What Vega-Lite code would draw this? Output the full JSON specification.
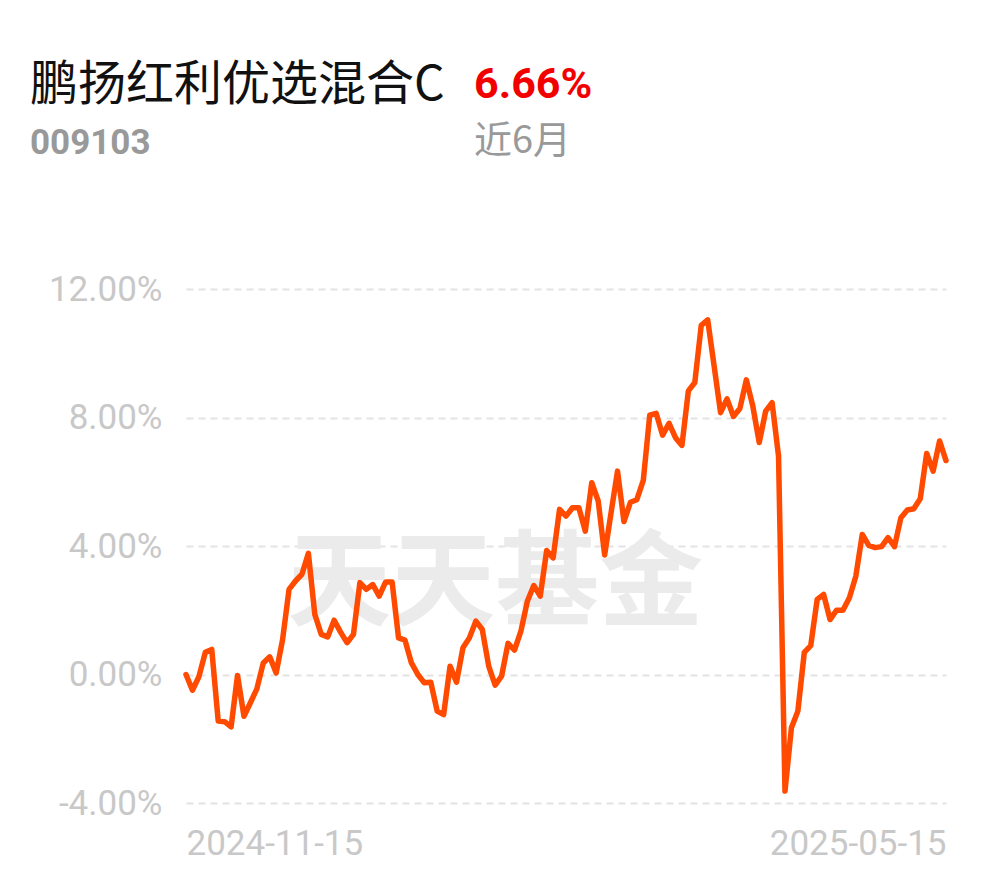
{
  "$schema": "https://vega.github.io/schema/vega-lite/v6.json",
  "autosize": {"type": "none"},
  "padding": {"left": 186, "top": 166, "right": 804, "bottom": 712},
  "background": "white",
  "bounds": "flush",
  "spacing": 123,
  "config": {"view": {"stroke": null}, "font": "Roboto"},
  "vconcat": [
    {
      "bounds": "flush",
      "spacing": 0,
      "hconcat": [
        {
          "width": 288, "height": 1,
          "data": {"values": [{"k": ""}]},
          "mark": {"type": "text", "opacity": 0},
          "encoding": {"text": {"field": "k"}},
          "title": {"text": "鹏扬红利优选混合C", "subtitle": "009103", "anchor": "start", "dx": -156, "offset": 0,
            "font": "Noto Sans CJK SC", "fontSize": 48, "fontWeight": "normal", "color": "#111111",
            "subtitleFont": "Roboto", "subtitleFontSize": 35, "subtitleFontWeight": "bold", "subtitleColor": "#999999", "subtitlePadding": 16}
        },
        {
          "width": 100, "height": 1,
          "data": {"values": [{"k": ""}]},
          "mark": {"type": "text", "opacity": 0},
          "encoding": {"text": {"field": "k"}},
          "title": {"text": "6.66%", "subtitle": "近6月", "anchor": "start", "offset": 0,
            "font": "Roboto", "fontSize": 43, "fontWeight": "bold", "color": "#f20000",
            "subtitleFont": "Noto Sans CJK SC", "subtitleFontSize": 38, "subtitleFontWeight": "normal", "subtitleColor": "#999999", "subtitlePadding": 16}
        }
      ]
    },
    {
      "width": 760,
      "height": 514,
      "data": {"values": [
        {"date": "2024-11-15", "r": 0.00}, {"date": "2024-11-18", "r": -0.49}, {"date": "2024-11-19", "r": -0.07}, {"date": "2024-11-20", "r": 0.69}, {"date": "2024-11-21", "r": 0.78}, {"date": "2024-11-22", "r": -1.45}, {"date": "2024-11-25", "r": -1.47}, {"date": "2024-11-26", "r": -1.63}, {"date": "2024-11-27", "r": -0.03}, {"date": "2024-11-28", "r": -1.30}, {"date": "2024-11-29", "r": -0.88},
        {"date": "2024-12-02", "r": -0.45}, {"date": "2024-12-03", "r": 0.36}, {"date": "2024-12-04", "r": 0.55}, {"date": "2024-12-05", "r": 0.05}, {"date": "2024-12-06", "r": 1.09}, {"date": "2024-12-09", "r": 2.65}, {"date": "2024-12-10", "r": 2.91}, {"date": "2024-12-11", "r": 3.12}, {"date": "2024-12-12", "r": 3.77}, {"date": "2024-12-13", "r": 1.87}, {"date": "2024-12-16", "r": 1.25}, {"date": "2024-12-17", "r": 1.17}, {"date": "2024-12-18", "r": 1.69}, {"date": "2024-12-19", "r": 1.32}, {"date": "2024-12-20", "r": 0.99}, {"date": "2024-12-23", "r": 1.25}, {"date": "2024-12-24", "r": 2.86}, {"date": "2024-12-25", "r": 2.65}, {"date": "2024-12-26", "r": 2.80}, {"date": "2024-12-27", "r": 2.44}, {"date": "2024-12-30", "r": 2.88}, {"date": "2024-12-31", "r": 2.88},
        {"date": "2025-01-02", "r": 1.14}, {"date": "2025-01-03", "r": 1.07}, {"date": "2025-01-06", "r": 0.36}, {"date": "2025-01-07", "r": 0.00}, {"date": "2025-01-08", "r": -0.26}, {"date": "2025-01-09", "r": -0.24}, {"date": "2025-01-10", "r": -1.14}, {"date": "2025-01-13", "r": -1.25}, {"date": "2025-01-14", "r": 0.26}, {"date": "2025-01-15", "r": -0.24}, {"date": "2025-01-16", "r": 0.83}, {"date": "2025-01-17", "r": 1.14}, {"date": "2025-01-20", "r": 1.66}, {"date": "2025-01-21", "r": 1.40}, {"date": "2025-01-22", "r": 0.26}, {"date": "2025-01-23", "r": -0.33}, {"date": "2025-01-24", "r": -0.05}, {"date": "2025-01-27", "r": 0.97},
        {"date": "2025-02-05", "r": 0.76}, {"date": "2025-02-06", "r": 1.35}, {"date": "2025-02-07", "r": 2.28}, {"date": "2025-02-10", "r": 2.77}, {"date": "2025-02-11", "r": 2.44}, {"date": "2025-02-12", "r": 3.86}, {"date": "2025-02-13", "r": 3.63}, {"date": "2025-02-14", "r": 5.14}, {"date": "2025-02-17", "r": 4.93}, {"date": "2025-02-18", "r": 5.19}, {"date": "2025-02-19", "r": 5.19}, {"date": "2025-02-20", "r": 4.46}, {"date": "2025-02-21", "r": 5.97}, {"date": "2025-02-24", "r": 5.40}, {"date": "2025-02-25", "r": 3.72}, {"date": "2025-02-26", "r": 5.04}, {"date": "2025-02-27", "r": 6.33}, {"date": "2025-02-28", "r": 4.76},
        {"date": "2025-03-03", "r": 5.36}, {"date": "2025-03-04", "r": 5.44}, {"date": "2025-03-05", "r": 6.04}, {"date": "2025-03-06", "r": 8.07}, {"date": "2025-03-07", "r": 8.13}, {"date": "2025-03-10", "r": 7.45}, {"date": "2025-03-11", "r": 7.82}, {"date": "2025-03-12", "r": 7.37}, {"date": "2025-03-13", "r": 7.13}, {"date": "2025-03-14", "r": 8.83}, {"date": "2025-03-17", "r": 9.09}, {"date": "2025-03-18", "r": 10.87}, {"date": "2025-03-19", "r": 11.04}, {"date": "2025-03-20", "r": 9.60}, {"date": "2025-03-21", "r": 8.15}, {"date": "2025-03-24", "r": 8.58}, {"date": "2025-03-25", "r": 8.03}, {"date": "2025-03-26", "r": 8.28}, {"date": "2025-03-27", "r": 9.17}, {"date": "2025-03-28", "r": 8.36}, {"date": "2025-03-31", "r": 7.22},
        {"date": "2025-04-01", "r": 8.20}, {"date": "2025-04-02", "r": 8.46}, {"date": "2025-04-03", "r": 6.80}, {"date": "2025-04-07", "r": -3.63}, {"date": "2025-04-08", "r": -1.66}, {"date": "2025-04-09", "r": -1.14}, {"date": "2025-04-10", "r": 0.69}, {"date": "2025-04-11", "r": 0.90}, {"date": "2025-04-14", "r": 2.34}, {"date": "2025-04-15", "r": 2.49}, {"date": "2025-04-16", "r": 1.71}, {"date": "2025-04-17", "r": 2.00}, {"date": "2025-04-18", "r": 2.00}, {"date": "2025-04-21", "r": 2.39}, {"date": "2025-04-22", "r": 3.06}, {"date": "2025-04-23", "r": 4.36}, {"date": "2025-04-24", "r": 4.02}, {"date": "2025-04-25", "r": 3.95}, {"date": "2025-04-28", "r": 3.98}, {"date": "2025-04-29", "r": 4.26}, {"date": "2025-04-30", "r": 3.98},
        {"date": "2025-05-06", "r": 4.88}, {"date": "2025-05-07", "r": 5.12}, {"date": "2025-05-08", "r": 5.16}, {"date": "2025-05-09", "r": 5.47}, {"date": "2025-05-12", "r": 6.88}, {"date": "2025-05-13", "r": 6.33}, {"date": "2025-05-14", "r": 7.27}, {"date": "2025-05-15", "r": 6.66}
      ]},
      "layer": [
        {
          "data": {"values": [{"label": "天天基金"}]},
          "mark": {"type": "text", "font": "Noto Sans CJK SC", "fontSize": 104, "fontWeight": "bold", "color": "#ebebeb", "align": "center", "baseline": "middle"},
          "encoding": {
            "x": {"datum": "2025-01-23", "type": "ordinal"},
            "y": {"datum": 2.71, "type": "quantitative"},
            "text": {"field": "label"}
          }
        },
        {
          "mark": {"type": "line", "color": "#ff4a00", "strokeWidth": 5.5, "strokeJoin": "round", "strokeCap": "round"},
          "encoding": {
            "x": {"field": "date", "type": "ordinal", "scale": {"type": "point", "padding": 0},
              "axis": {"values": ["2024-11-15", "2025-05-15"], "labelAlign": {"expr": "datum.value == '2024-11-15' ? 'left' : 'right'"}, "labelAngle": 0, "domain": false, "ticks": false, "grid": false, "labelColor": "#c8c8c8", "labelFont": "Roboto", "labelFontSize": 35, "labelPadding": 40, "title": null}},
            "y": {"field": "r", "type": "quantitative", "scale": {"domain": [-4, 12], "nice": false, "zero": false},
              "axis": {"values": [-4, 0, 4, 8, 12], "labelExpr": "(datum.value < 0 ? '-' : '') + format(abs(datum.value), '.2f') + '%'", "domain": false, "ticks": false, "grid": true, "gridDash": [7, 5], "gridColor": "#e3e3e3", "gridWidth": 2, "labelColor": "#c8c8c8", "labelFont": "Roboto", "labelFontSize": 35, "labelPadding": 24, "title": null}}
          }
        }
      ]
    }
  ]
}
